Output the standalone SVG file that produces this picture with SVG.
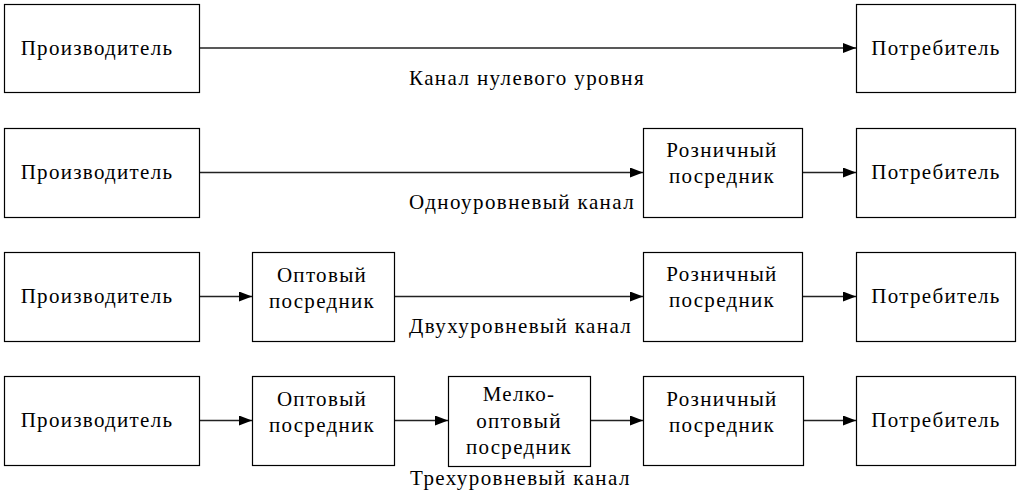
<svg xmlns="http://www.w3.org/2000/svg" width="1020" height="502" viewBox="0 0 1020 502">
<style>
.box{fill:#fff;stroke:#000;stroke-width:1.2}
.t{font-family:'Liberation Serif','Times New Roman',serif;font-size:21px;fill:#000;text-anchor:middle;letter-spacing:1.3px}
.lbl{font-family:'Liberation Serif','Times New Roman',serif;font-size:21px;fill:#000;letter-spacing:1.4px}
.c{stroke:#222;stroke-width:1.5;fill:none;marker-end:url(#ah)}
</style>
<defs>
<marker id="ah" markerUnits="userSpaceOnUse" markerWidth="13" markerHeight="10" refX="13" refY="5" orient="auto">
<path d="M0,0 L13,5 L0,10 z" fill="#000"/>
</marker>
</defs>
<rect width="1020" height="502" fill="#fff"/>
<g id="connectors">
<line class="c" x1="200" y1="48" x2="856" y2="48"/>
<line class="c" x1="200" y1="172.5" x2="643" y2="172.5"/>
<line class="c" x1="803" y1="172.5" x2="856" y2="172.5"/>
<line class="c" x1="200" y1="296.5" x2="252" y2="296.5"/>
<line class="c" x1="395" y1="296.5" x2="643" y2="296.5"/>
<line class="c" x1="803" y1="296.5" x2="856" y2="296.5"/>
<line class="c" x1="200" y1="420.5" x2="252" y2="420.5"/>
<line class="c" x1="395" y1="420.5" x2="448" y2="420.5"/>
<line class="c" x1="591" y1="420.5" x2="643" y2="420.5"/>
<line class="c" x1="803" y1="420.5" x2="856" y2="420.5"/>
</g>
<g id="labels">
<text class="lbl" x="409" y="85">Канал нулевого уровня</text>
<text class="lbl" x="409" y="209">Одноуровневый канал</text>
<text class="lbl" x="409" y="333">Двухуровневый канал</text>
<text class="lbl" x="410" y="485">Трехуровневый канал</text>
</g>
<g id="prod1"><rect class="box" x="4.5" y="4.5" width="195" height="88"/><text class="t" x="97" y="55">Производитель</text></g>
<g id="cons1"><rect class="box" x="856.5" y="4.5" width="159" height="88"/><text class="t" x="936" y="55">Потребитель</text></g>
<g id="prod2"><rect class="box" x="4.5" y="128.5" width="195" height="89"/><text class="t" x="97" y="179">Производитель</text></g>
<g id="ret2"><rect class="box" x="643.5" y="128.5" width="159" height="89"/><text class="t" x="722" y="157">Розничный</text><text class="t" x="722" y="183">посредник</text></g>
<g id="cons2"><rect class="box" x="856.5" y="128.5" width="159" height="89"/><text class="t" x="936" y="179">Потребитель</text></g>
<g id="prod3"><rect class="box" x="4.5" y="252.5" width="195" height="89"/><text class="t" x="97" y="303">Производитель</text></g>
<g id="whs3"><rect class="box" x="252.5" y="252.5" width="142" height="89"/><text class="t" x="322" y="282">Оптовый</text><text class="t" x="322" y="308">посредник</text></g>
<g id="ret3"><rect class="box" x="643.5" y="252.5" width="159" height="89"/><text class="t" x="722" y="281">Розничный</text><text class="t" x="722" y="307">посредник</text></g>
<g id="cons3"><rect class="box" x="856.5" y="252.5" width="159" height="89"/><text class="t" x="936" y="303">Потребитель</text></g>
<g id="prod4"><rect class="box" x="4.5" y="376.5" width="195" height="89"/><text class="t" x="97" y="427">Производитель</text></g>
<g id="whs4"><rect class="box" x="252.5" y="376.5" width="142" height="89"/><text class="t" x="322" y="406">Оптовый</text><text class="t" x="322" y="432">посредник</text></g>
<g id="swhs4"><rect class="box" x="448.5" y="376.5" width="142" height="90"/><text class="t" x="519" y="401">Мелко-</text><text class="t" x="519" y="428">оптовый</text><text class="t" x="519" y="454">посредник</text></g>
<g id="ret4"><rect class="box" x="643.5" y="376.5" width="160" height="89"/><text class="t" x="722" y="406">Розничный</text><text class="t" x="722" y="432">посредник</text></g>
<g id="cons4"><rect class="box" x="856.5" y="376.5" width="159" height="89"/><text class="t" x="936" y="427">Потребитель</text></g>
</svg>
